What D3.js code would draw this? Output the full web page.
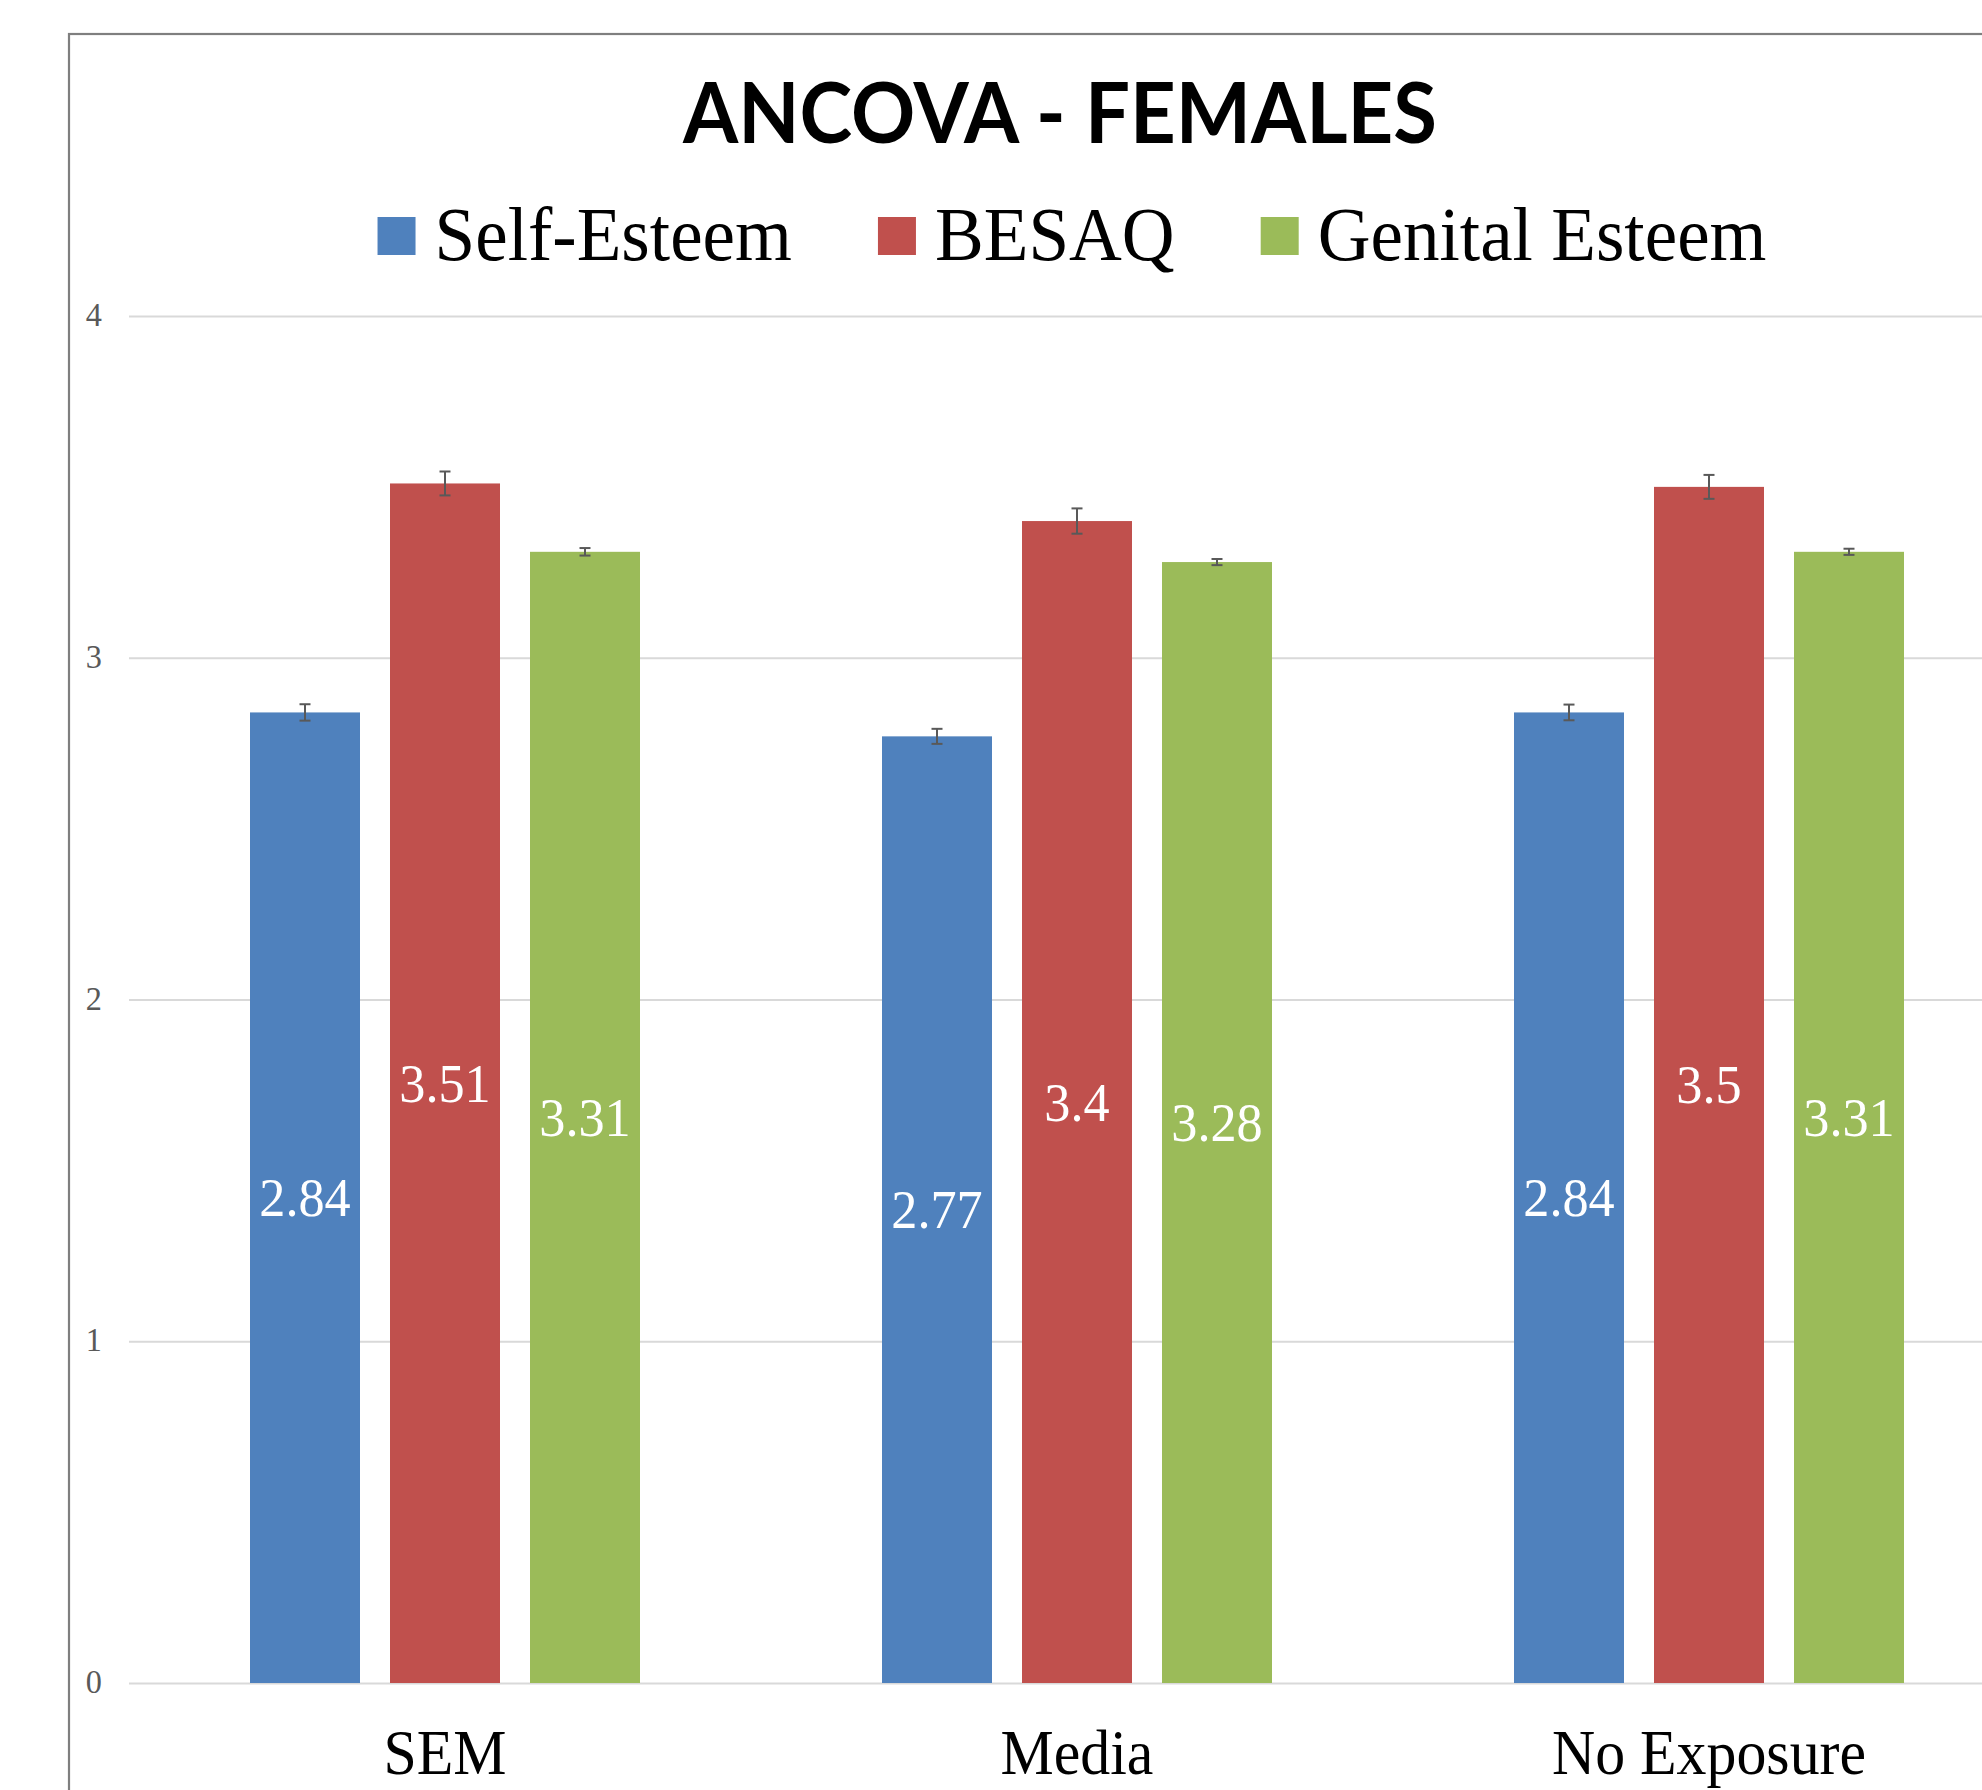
<!DOCTYPE html>
<html>
<head>
<meta charset="utf-8">
<script src="https://cdn.jsdelivr.net/npm/d3@7"></script>
<style>
  html, body { margin: 0; padding: 0; background: #ffffff; }
  svg { display: block; }
</style>
</head>
<body>
<svg id="chart"></svg>
<script>
// ANCOVA estimated means by exposure group (female participants)
const categories = ["SEM", "Media", "No Exposure"];
const seriesNames = ["Self-Esteem", "BESAQ", "Genital Esteem"];
const selfEsteem = [2.84, 2.77, 2.84];
const besaq = [3.51, 3.4, 3.5];
const genitalEsteem = [3.31, 3.28, 3.31];
// standard errors shown as error bars
const selfEsteemErr = [0.024, 0.022, 0.023];
const besaqErr = [0.035, 0.037, 0.035];
const genitalEsteemErr = [0.011, 0.009, 0.009];
const yTicks = [0, 1, 2, 3, 4];
const colors = ["#4f81bd", "#c0504d", "#9bbb59"];
const titleText = "ANCOVA - FEMALES";

const W = 1982, H = 1790;
const SQ = 0.95; // horizontal condensing of the serif text
const serif = "'Liberation Serif', 'Times New Roman', Times, serif";

const seriesValues = [selfEsteem, besaq, genitalEsteem];
const seriesErrors = [selfEsteemErr, besaqErr, genitalEsteemErr];

const rows = [];
categories.forEach((c, ci) => {
  seriesNames.forEach((s, si) => {
    rows.push({ category: c, series: s, si, value: seriesValues[si][ci], err: seriesErrors[si][ci] });
  });
});

const svg = d3.select("#chart").attr("width", W).attr("height", H);
svg.append("rect").attr("width", W).attr("height", H).attr("fill", "#ffffff");

// chart frame (continues past the right and bottom edges)
svg.append("rect")
  .attr("x", 69).attr("y", 34)
  .attr("width", 2100).attr("height", 1900)
  .attr("fill", "none")
  .attr("stroke", "#7f7f7f")
  .attr("stroke-width", 2.2);

const plotLeft = 129, plotRight = 2025;
const x0 = d3.scaleBand().domain(categories).range([plotLeft, plotRight]).padding(0);
const groupPad = 121;
const x1 = d3.scaleBand().domain(seriesNames)
  .range([groupPad, x0.bandwidth() - groupPad])
  .paddingInner(30 / 140).paddingOuter(0);
const y = d3.scaleLinear().domain([0, 4]).range([1683, 316]);
const color = d3.scaleOrdinal().domain(seriesNames).range(colors);

// horizontal gridlines
const yAxis = d3.axisLeft(y).tickValues(yTicks).tickSize(-(plotRight - plotLeft)).tickFormat("");
const gAxis = svg.append("g").attr("transform", `translate(${plotLeft},0)`).call(yAxis);
gAxis.select(".domain").remove();
gAxis.selectAll(".tick line").attr("stroke", "#d9d9d9").attr("stroke-width", 2);

function squeezed(parent, x, yy, str, size, anchor, fill, family, weight) {
  const g = parent.append("g").attr("transform", `translate(${x},${yy}) scale(${SQ},1)`);
  return g.append("text")
    .attr("x", 0).attr("y", 0)
    .attr("text-anchor", anchor)
    .attr("font-family", family || serif)
    .attr("font-size", size)
    .attr("font-weight", weight || "normal")
    .attr("fill", fill)
    .text(str);
}

// y tick labels
const tickLayer = svg.append("g");
yTicks.forEach(t => {
  squeezed(tickLayer, 102, y(t) + 10, d3.format("d")(t), 34, "end", "#595959");
});

// bars
const barLayer = svg.append("g");
barLayer.selectAll("rect.bar")
  .data(rows)
  .join("rect")
  .attr("class", "bar")
  .attr("x", d => x0(d.category) + x1(d.series))
  .attr("y", d => y(d.value))
  .attr("width", x1.bandwidth())
  .attr("height", d => y(0) - y(d.value))
  .attr("fill", d => color(d.series));

// error bars
const errLayer = svg.append("g").attr("stroke", "#595959").attr("stroke-width", 2);
const capHalf = 5.5;
rows.forEach(d => {
  const cx = x0(d.category) + x1(d.series) + x1.bandwidth() / 2;
  const yt = y(d.value + d.err), yb = y(d.value - d.err);
  errLayer.append("line").attr("x1", cx).attr("x2", cx).attr("y1", yt).attr("y2", yb);
  errLayer.append("line").attr("x1", cx - capHalf).attr("x2", cx + capHalf).attr("y1", yt).attr("y2", yt);
  errLayer.append("line").attr("x1", cx - capHalf).attr("x2", cx + capHalf).attr("y1", yb).attr("y2", yb);
});

// value labels centred inside the bars
const labelLayer = svg.append("g");
rows.forEach(d => {
  const cx = x0(d.category) + x1(d.series) + x1.bandwidth() / 2;
  const cy = (y(d.value) + y(0)) / 2;
  squeezed(labelLayer, cx, cy + 18.5, String(d.value), 55, "middle", "#ffffff");
});

// category labels
const catLayer = svg.append("g");
categories.forEach(c => {
  squeezed(catLayer, x0(c) + x0.bandwidth() / 2, 1774, c, 63, "middle", "#000000");
});

// title
svg.append("text")
  .attr("x", 1060).attr("y", 143)
  .attr("text-anchor", "middle")
  .attr("font-family", "Lato, 'Open Sans', sans-serif")
  .attr("font-weight", 700)
  .attr("font-size", 84)
  .attr("textLength", 754)
  .attr("lengthAdjust", "spacingAndGlyphs")
  .attr("fill", "#000000")
  .text(titleText);

// legend
const legend = svg.append("g");
const sw = 38, swGap = 19, itemGap = 86, legendFont = 77;
const items = seriesNames.map(name => {
  const g = legend.append("g");
  g.append("rect").attr("x", 0).attr("y", 217).attr("width", sw).attr("height", 38).attr("fill", color(name));
  const t = squeezed(g, sw + swGap, 260, name, legendFont, "start", "#000000");
  const w = t.node().getComputedTextLength() * SQ;
  return { g, width: sw + swGap + w };
});
const total = d3.sum(items, d => d.width) + itemGap * (items.length - 1);
let cursor = 1072 - total / 2;
items.forEach(it => {
  it.g.attr("transform", `translate(${cursor},0)`);
  cursor += it.width + itemGap;
});
</script>
</body>
</html>
